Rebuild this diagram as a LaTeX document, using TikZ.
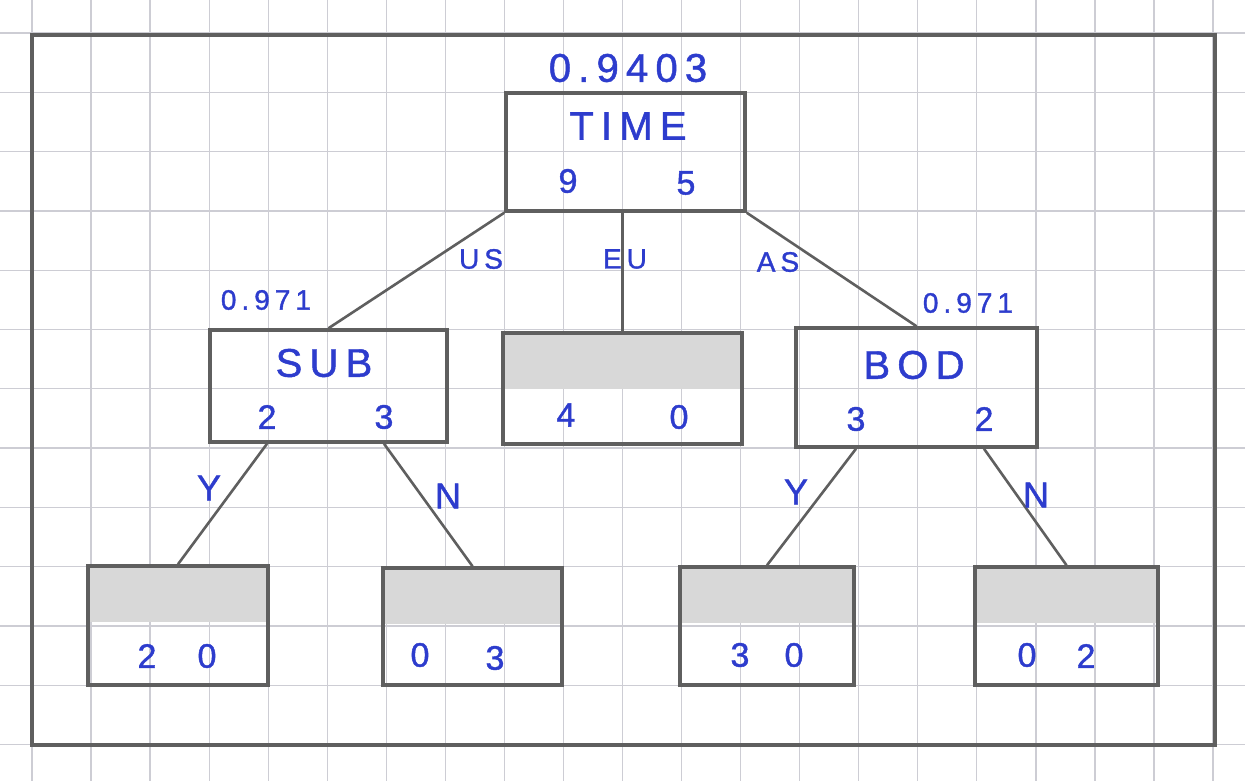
\documentclass[tikz,border=0pt]{standalone}
\usepackage{fontspec}
\setmainfont{Liberation Sans}
\newfontfamily\hand[LetterSpace=18,FakeBold=1.2]{Liberation Sans}
\usetikzlibrary{calc}
\definecolor{ink}{RGB}{45,60,205}
\definecolor{pencil}{RGB}{95,95,95}
\definecolor{gridc}{RGB}{205,205,212}
\definecolor{shadec}{RGB}{216,216,216}
\tikzset{
  gridline/.style={draw=gridc, line width=1.3pt},
  box/.style={draw=pencil, line width=3.5pt, rectangle, inner sep=0pt},
  leafbox/.style={box, path picture={\fill[shadec] (path picture bounding box.north west) rectangle ([yshift=-56pt]path picture bounding box.north east);}},
  conn/.style={draw=pencil, line width=2.6pt},
  big/.style={text=ink, font=\hand\fontsize{40}{44}\selectfont, inner sep=0pt},
  cnt/.style={text=ink, font=\hand\fontsize{34}{38}\selectfont, inner sep=0pt},
  score/.style={text=ink, font=\hand\fontsize{28}{32}\selectfont, inner sep=0pt},
  lbl/.style={text=ink, font=\hand\fontsize{28}{32}\selectfont, inner sep=0pt},
  yn/.style={text=ink, font=\hand\fontsize{36}{40}\selectfont, inner sep=0pt},
}
\begin{document}
\begin{tikzpicture}[x=1pt,y=-1pt]
\useasboundingbox (0,0) rectangle (1245,781);
\fill[white] (0,0) rectangle (1245,781);
% grid paper
\foreach \i in {0,...,21} {\draw[gridline] ({32+59.05*\i},0) -- ({32+59.05*\i},781);}
\foreach \j in {0,...,12} {\draw[gridline] (0,{33+59.3*\j}) -- (1245,{33+59.3*\j});}
% frame
\draw[draw=pencil, line width=3.5pt] (32,35) rectangle (1215,745);
% boxes
\node[box, minimum width=239pt, minimum height=118pt] (time) at (625.5,152) {};
\node[box, minimum width=237pt, minimum height=112pt] (sub) at (328.5,386) {};
\node[leafbox, minimum width=239pt, minimum height=111pt] (eu) at (622.5,388.5) {};
\node[box, minimum width=241pt, minimum height=119pt] (bod) at (916.5,387.5) {};
\node[leafbox, minimum width=180pt, minimum height=119pt] (ll) at (178,625.5) {};
\node[leafbox, minimum width=179pt, minimum height=117pt] (lr) at (472.5,626.5) {};
\node[leafbox, minimum width=174pt, minimum height=118pt] (rl) at (767,626) {};
\node[leafbox, minimum width=183pt, minimum height=118pt] (rr) at (1066.5,626) {};
% texts
\node[big] (e0) at (628,68) {0.9403};
\node[big] (tname) at (628,126) {TIME};
\node[cnt] (t1) at (568,181) {9};
\node[cnt] (t2) at (686,183) {5};
\node[score] (e1) at (266,300) {0.971};
\node[big] (sname) at (324,363) {SUB};
\node[cnt] (s1) at (267,417) {2};
\node[cnt] (s2) at (384,417) {3};
\node[cnt] (u1) at (566,415) {4};
\node[cnt] (u2) at (679,417) {0};
\node[score] (e2) at (968,303) {0.971};
\node[big] (bname) at (914,365) {BOD};
\node[cnt] (b1) at (856,419) {3};
\node[cnt] (b2) at (984,419) {2};
\node[cnt] (l1) at (147,656) {2};
\node[cnt] (l2) at (207,656) {0};
\node[cnt] (m1) at (420,655) {0};
\node[cnt] (m2) at (495,658) {3};
\node[cnt] (n1) at (740,655) {3};
\node[cnt] (n2) at (794,655) {0};
\node[cnt] (o1) at (1027,655) {0};
\node[cnt] (o2) at (1086,656) {2};
% connectors
\draw[conn] (time.south west) -- (sub.north);
\draw[conn] (eu.north |- time.south) -- (eu.north);
\draw[conn] (time.south east) -- (bod.north);
\draw[conn] (s1 |- sub.south) -- (ll.north);
\draw[conn] (s2 |- sub.south) -- (lr.north);
\draw[conn] (b1 |- bod.south) -- (rl.north);
\draw[conn] (b2 |- bod.south) -- (rr.north);
% connector labels
\node[lbl] (lus) at (481,259) {US};
\node[lbl] (leu) at (625,259) {EU};
\node[lbl] (las) at (778,262) {AS};
\node[yn] (ly1) at (209,488) {Y};
\node[yn] (ln1) at (448,496) {N};
\node[yn] (ly2) at (796,492) {Y};
\node[yn] (ln2) at (1036,495) {N};
\end{tikzpicture}
\end{document}
